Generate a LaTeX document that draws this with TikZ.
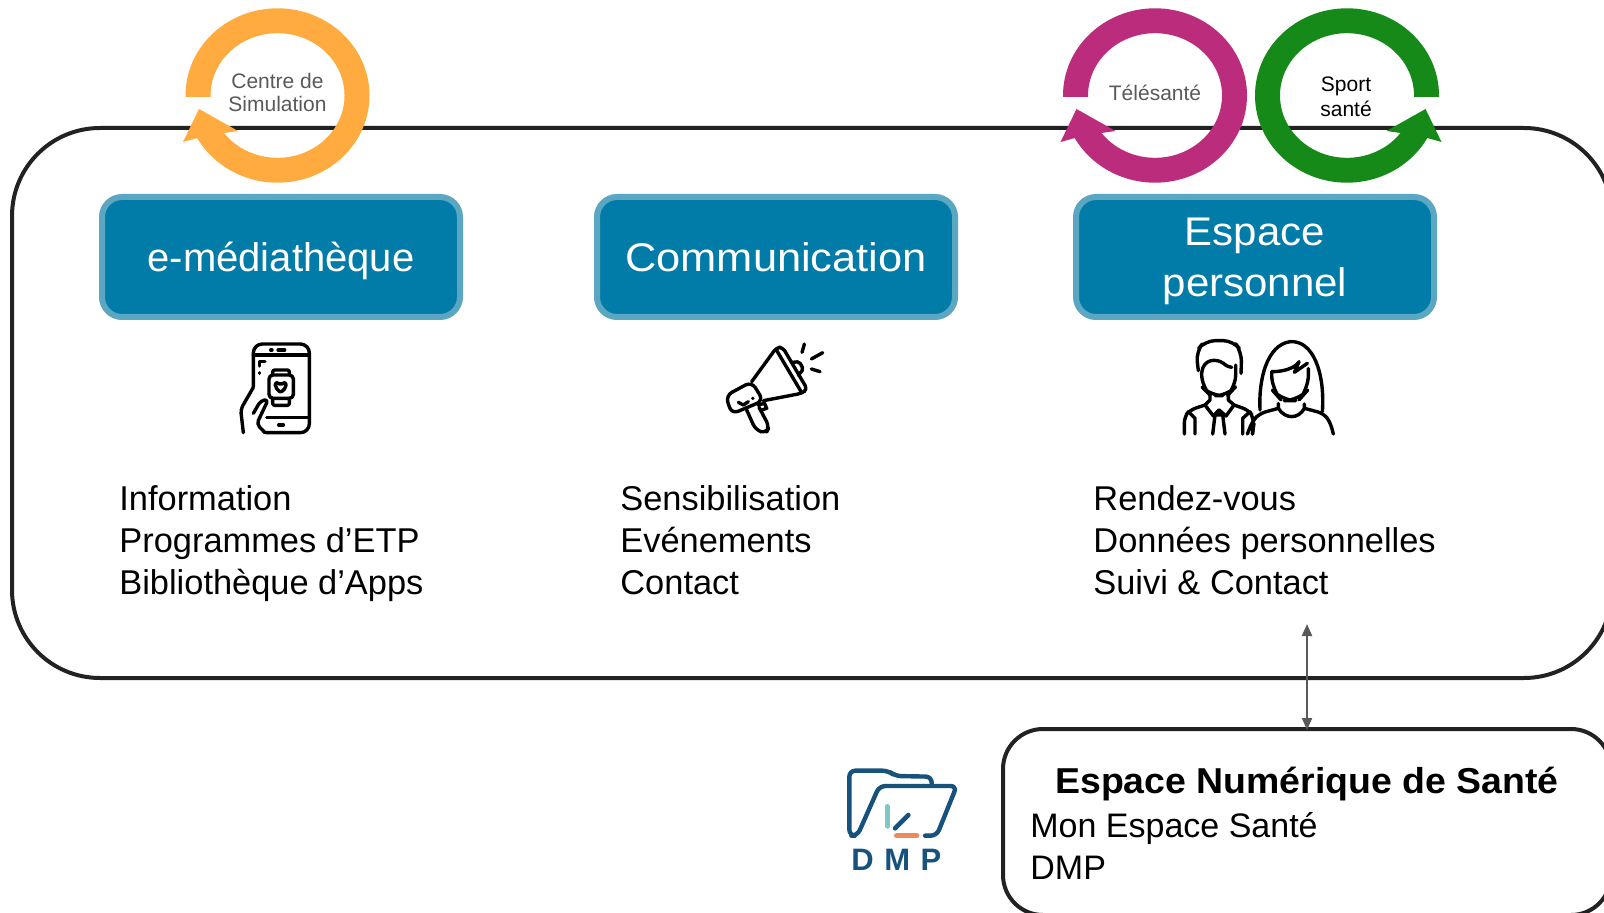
\documentclass[tikz,border=0pt]{standalone}
\usepackage{fontspec}
\setmainfont{Liberation Sans}
\newfontfamily\logofont[LetterSpace=34]{Liberation Sans}
\newfontfamily\widefont[FakeStretch=1.085]{Liberation Sans}
\newfontfamily\midfont[FakeStretch=1.05]{Liberation Sans}
\newfontfamily\titlefont[FakeStretch=1.04]{Liberation Sans}
\usetikzlibrary{arrows.meta}
\definecolor{bluefill}{HTML}{017BA7}
\definecolor{blueedge}{HTML}{5BA6C1}
\definecolor{ringorange}{HTML}{FFAB40}
\definecolor{ringpink}{HTML}{BC2C7C}
\definecolor{ringgreen}{HTML}{158A18}
\definecolor{greytxt}{HTML}{595959}
\definecolor{outline}{HTML}{222222}
\definecolor{dmpblue}{HTML}{17527C}
\definecolor{dmpteal}{HTML}{7CC8C8}
\definecolor{dmporange}{HTML}{EF8A5E}
\tikzset{
  bluebox/.style={draw=blueedge,fill=bluefill,line width=3pt,rounded corners=10pt,minimum width=179pt,minimum height=60pt,inner sep=0pt,outer sep=0pt,text=white,align=center},
  boxtext/.style={inner sep=0pt,text=white,align=center,font=\fontsize{20}{25.5}\selectfont},
  bigframe/.style={draw=outline,line width=2pt,rounded corners=44pt,inner sep=0pt,outer sep=0pt},
  smallframe/.style={draw=outline,line width=2pt,rounded corners=20pt,fill=white,inner sep=0pt,outer sep=0pt},
  listtext/.style={anchor=west,align=left,inner sep=0pt,font=\fontsize{17.2}{21}\selectfont},
  ringlabel/.style={align=center,inner sep=0pt,text=greytxt,font=\fontsize{10.5}{11.5}\selectfont},
  icon/.style={line width=1.7pt,line cap=round,line join=round,black},
  dmpline/.style={line width=2.2pt,line cap=round,line join=round,dmpblue},
}
\newcommand{\ringshape}[3]{%
  \begin{scope}[shift={(#1,95.5)},xscale=#2]
    \fill[#3] (-92,1.5) -- (-92,0) arc[start angle=180,end angle=510.8,x radius=92,y radius=87.2]
      -- (-94.5,46.5) -- (-78.5,13.5) -- (-39.5,35.5) -- (-53.5,37.5)
      arc[start angle=503,end angle=180,x radius=67,y radius=62.3] -- (-67,1.5) -- cycle;
  \end{scope}}
\begin{document}
\begin{tikzpicture}[x=0.5pt,y=-0.5pt]
\useasboundingbox (0,0) rectangle (1604,913);
% frames
\node[bigframe,minimum width=800pt,minimum height=275pt] (frame) at (812,403) {};
\node[smallframe,minimum width=304pt,minimum height=93pt,anchor=center] (ens) at (1307,822) {};
% rings
\ringshape{277.5}{1}{ringorange}
\ringshape{1155}{1}{ringpink}
\ringshape{1347}{-1}{ringgreen}
\node[ringlabel] (sim) at (277.5,93) {Centre de\\Simulation};
\node[ringlabel] (tele) at (1155,93) {Télésanté};
\node[ringlabel,text=black,font=\fontsize{10.5}{12.3}\selectfont] (sport) at (1346,97) {Sport\\santé};
% blue boxes
\node[bluebox] (media) at (281,257) {};
\node[bluebox] (comm) at (776,257) {};
\node[bluebox] (perso) at (1255,257) {};
\node[boxtext] (mediat) at (281,261) {e-médiathèque};
\node[boxtext,font=\widefont\fontsize{20}{25.5}\selectfont] (commt) at (776,257) {Communication};
\node[boxtext,font=\midfont\fontsize{20}{25.5}\selectfont] (persot) at (1255,261) {Espace\\personnel};
% lists
\node[listtext] (l1) at (119,543.5) {Information\\Programmes d’ETP\\Bibliothèque d’Apps};
\node[listtext] (l2) at (620,540) {Sensibilisation\\Evénements\\Contact};
\node[listtext] (l3) at (1093,540) {Rendez-vous\\Données personnelles\\Suivi \& Contact};
% ENS text
\node[inner sep=0pt,font=\titlefont\bfseries\fontsize{18}{21}\selectfont] (enstitle) at (1307,784) {Espace Numérique de Santé};
\node[listtext,font=\fontsize{17}{21}\selectfont] (enslist) at (1030,846) {Mon Espace Santé\\DMP};
% connector
\coordinate (arrowtop) at (ens.north |- 0,624);
\draw[{Triangle[length=6pt,width=5pt]}-{Triangle[length=6pt,width=5pt]},line width=1pt,greytxt,shorten >=-0.5pt] (arrowtop) -- (ens.north);
% phone icon
\begin{scope}[shift={(220,330)},x=0.1667pt,y=-0.1667pt,icon]
  \draw[rounded corners=4.5pt] (100,170) -- (100,42) -- (268,42) -- (268,308) -- (138,308);
  \draw (100,75) -- (268,75);
  \draw (140,262) -- (268,262);
  \draw (152,60) -- (156,60) (174,60) -- (194,60);
  \draw (176,285) -- (190,285);
  \draw (135,95) -- (118,95) -- (118,108) (118,128) -- (118,130);
  \draw[rounded corners=2pt] (147,135) rectangle (220,205);
  \draw[rounded corners=1pt] (158,135) -- (158,120) -- (208,120) -- (208,135) (158,205) -- (158,226) -- (208,226) -- (208,205);
  \draw[rounded corners=1pt] (182,188) -- (166,172) -- (166,158) -- (176,158) -- (182,165) -- (188,158) -- (198,158) -- (198,172) -- cycle;
  \draw[rounded corners=2pt] (100,172) -- (62,238) -- (70,308);
  \draw[rounded corners=2pt] (100,250) -- (122,212) -- (145,208) -- (110,282) -- (135,308);
\end{scope}
% megaphone icon
\begin{scope}[shift={(710,330)},x=0.1667pt,y=-0.1667pt,icon]
  \draw (283,42) -- (276,67) (338,68) -- (304,87) (330,125) -- (304,117);
  \draw[rounded corners=2pt] (125,155) -- (200,52) -- (218,52) -- (292,178) -- (275,190) -- (160,212);
  \draw (198,58) -- (275,188);
  \draw[rounded corners=3.5pt] (125,155) -- (47,197) -- (65,252) -- (160,212) -- cycle;
  \draw (85,217) -- (100,225) -- (115,215) (128,205) -- (129,205);
  \draw[rounded corners=3pt] (110,240) -- (137,300) -- (168,310) -- (178,290) -- (147,232);
  \draw (145,226) -- (163,219) -- (170,235) -- (153,241);
  \draw[rounded corners=1pt] (248,97) -- (268,95) -- (280,118) -- (265,135);
\end{scope}
% people icon
\begin{scope}[shift={(1170,330)},x=0.1667pt,y=-0.1667pt,icon]
  \draw[rounded corners=5pt] (85,122) -- (78,65) -- (105,32) -- (190,32) -- (215,65) -- (213,130);
  \draw[rounded corners=6pt] (95,128) -- (95,170) -- (122,197) -- (172,197) -- (197,170) -- (197,105);
  \draw (95,128) .. controls (100,85) and (140,85) .. (160,100) .. controls (170,108) and (178,112) .. (185,112);
  \draw (120,195) -- (120,210) -- (105,225) -- (130,258) -- (147,240) -- (168,258) -- (192,225) -- (175,210) -- (175,195);
  \draw[rounded corners=3pt] (105,225) -- (60,240) -- (43,260) -- (43,312) (192,225) -- (235,240) -- (250,260) -- (248,312);
  \draw (55,245) -- (75,265) -- (75,312) (240,245) -- (218,265) -- (218,312);
  \draw (147,240) -- (135,255) -- (128,312) (147,240) -- (158,255) -- (165,312) (135,255) -- (158,255);
  \draw (270,240) .. controls (265,150) and (290,45) .. (360,35) .. controls (430,30) and (465,130) .. (457,245);
  \draw[rounded corners=7pt] (305,125) -- (305,178) -- (335,212) -- (385,212) -- (415,178) -- (415,115);
  \draw (305,125) .. controls (340,125) and (375,115) .. (387,95) -- (373,127) -- (412,100);
  \draw (325,220) -- (325,235) .. controls (345,268) and (385,268) .. (403,235) -- (403,222);
  \draw[rounded corners=3pt] (325,235) -- (270,250) -- (248,272) -- (232,312) (403,235) -- (460,250) -- (480,275) -- (490,312) (252,280) -- (247,312);
\end{scope}
% DMP logo
\begin{scope}[shift={(840,760)},x=0.1667pt,y=-0.1667pt]
  \draw[dmpline,rounded corners=3pt] (275,74) -- (275,50) -- (165,48) -- (145,32) -- (28,32) -- (28,227) -- (52,227) -- (118,78) -- (350,78) -- (290,227) -- (255,227);
  \draw[line width=2.7pt,line cap=round,dmpteal] (142,140) -- (142,198);
  \draw[line width=2.3pt,line cap=round,dmpblue] (165,205) -- (205,165);
  \draw[line width=2.7pt,line cap=round,dmporange] (170,227) -- (230,227);
  \node[inner sep=0pt,text=dmpblue,font=\logofont\bfseries\fontsize{15.5}{16}\selectfont] (dmp) at (169,298) {DMP};
\end{scope}
\end{tikzpicture}
\end{document}
